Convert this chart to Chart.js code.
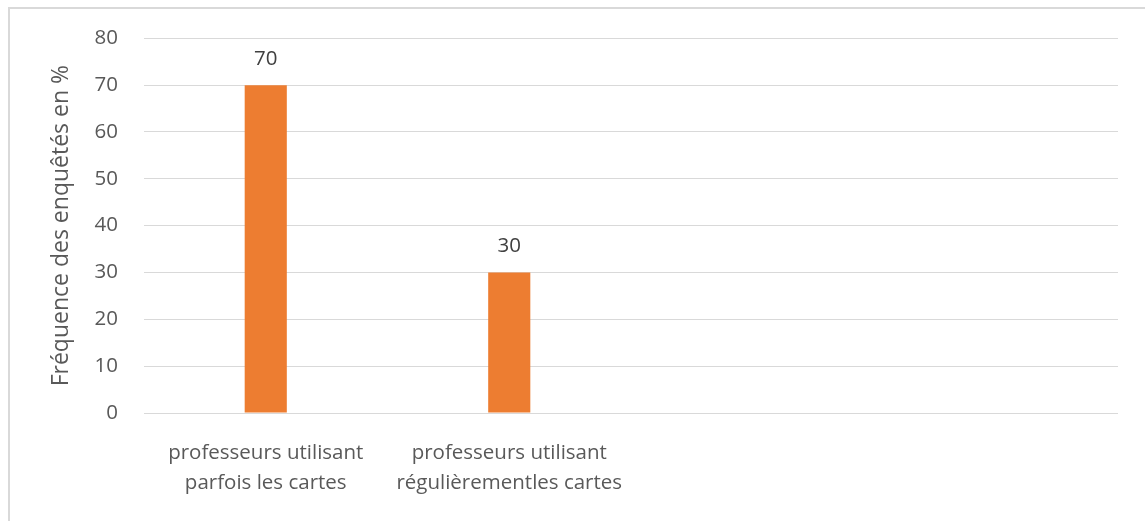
<!DOCTYPE html>
<html>
<head>
<meta charset="utf-8">
<script src="https://cdn.jsdelivr.net/npm/chart.js@4/dist/chart.umd.min.js"></script>
<style>
html,body{margin:0;padding:0;background:#fff;}
#wrap{position:absolute;left:0;top:0;width:1145px;height:521px;}
</style>
</head>
<body>
<div id="wrap"><canvas id="c" width="1145" height="521"></canvas></div>
<script>
const categories = [
  ["professeurs utilisant", "parfois les cartes"],
  ["professeurs utilisant", "régulièrementles cartes"],
  "",
  ""
];
const values = [70, 30, null, null];
const yTicks = [0, 10, 20, 30, 40, 50, 60, 70, 80];
const yTitle = "Fréquence des enquêtés en %";

const FONT = "'Open Sans', sans-serif";

const borderPlugin = {
  id: 'outerBorder',
  beforeDraw(chart) {
    const ctx = chart.ctx;
    ctx.save();
    ctx.fillStyle = '#ffffff';
    ctx.fillRect(0, 0, chart.width, chart.height);
    ctx.strokeStyle = '#d9d9d9';
    ctx.lineWidth = 2;
    ctx.beginPath();
    ctx.moveTo(9, chart.height + 5);
    ctx.lineTo(9, 8);
    ctx.lineTo(chart.width + 5, 8);
    ctx.stroke();
    ctx.restore();
  }
};

const labelPlugin = {
  id: 'valueLabels',
  afterDatasetsDraw(chart) {
    const ctx = chart.ctx;
    const meta = chart.getDatasetMeta(0);
    ctx.save();
    ctx.font = "20.5px " + FONT;
    ctx.fillStyle = '#404040';
    ctx.textAlign = 'center';
    ctx.textBaseline = 'middle';
    meta.data.forEach((bar, i) => {
      const v = values[i];
      if (v === null || v === undefined) return;
      ctx.fillText(String(v), bar.x, bar.y - 26);
    });
    ctx.restore();
  }
};

new Chart(document.getElementById('c'), {
  type: 'bar',
  data: {
    labels: categories,
    datasets: [{
      data: values,
      backgroundColor: '#ED7D31',
      categoryPercentage: 1,
      barPercentage: 0.173
    }]
  },
  options: {
    responsive: false,
    animation: false,
    devicePixelRatio: 1,
    layout: { padding: { left: 48, top: 37, right: 27, bottom: 0 } },
    plugins: { legend: { display: false }, tooltip: { enabled: false } },
    scales: {
      x: {
        grid: { display: false, drawTicks: false },
        border: { display: false },
        ticks: {
          color: '#595959',
          font: { family: FONT, size: 20.5, lineHeight: 1.42 },
          padding: 26,
          maxRotation: 0,
          autoSkip: false
        },
        afterFit(s) { s.height = 108; }
      },
      y: {
        min: 0, max: 80,
        afterBuildTicks(s) { s.ticks = yTicks.map(v => ({ value: v })); },
        grid: { color: '#d9d9d9', lineWidth: 1, drawTicks: false },
        border: { display: false },
        ticks: {
          color: '#595959',
          font: { family: FONT, size: 20.5 },
          padding: 26
        },
        title: {
          display: true,
          text: yTitle,
          color: '#595959',
          font: { family: FONT, size: 23 },
          padding: { top: 0, bottom: 0 }
        },
        afterFit(s) { s.width = 96; }
      }
    }
  },
  plugins: [borderPlugin, labelPlugin]
});
</script>
</body>
</html>
